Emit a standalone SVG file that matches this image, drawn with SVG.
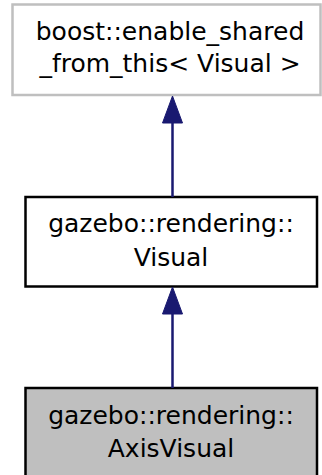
<svg xmlns="http://www.w3.org/2000/svg" width="322" height="475" viewBox="0 0 322 475">
<style>
text{font-family:"DejaVu Sans",sans-serif;font-size:25px;fill:#000;text-anchor:middle}
.edge{stroke:#191970;stroke-width:2.5;fill:none}
.head{fill:#191970;stroke:#191970;stroke-width:1}
</style>
<rect width="322" height="475" fill="#fff"/>
<g id="node_enable_shared">
<rect x="12.5" y="4.5" width="308" height="90.5" fill="#fff" stroke="#bfbfbf" stroke-width="2.5"/>
<text x="170" y="40">boost::enable_shared</text>
<text x="170" y="72">_from_this&lt; Visual &gt;</text>
</g>
<g id="node_visual">
<rect x="25.5" y="197" width="291.5" height="89.5" fill="#fff" stroke="#000" stroke-width="2.5"/>
<text x="171" y="232">gazebo::rendering::</text>
<text x="171" y="265.5">Visual</text>
</g>
<g id="node_axisvisual">
<rect x="25.5" y="388" width="291.5" height="90" fill="#bfbfbf" stroke="#000" stroke-width="2.5"/>
<text x="171" y="423.5">gazebo::rendering::</text>
<text x="171" y="457">AxisVisual</text>
</g>
<g id="connectors">
<line class="edge" x1="172.5" y1="122" x2="172.5" y2="197"/>
<polygon class="head" points="172.5,96 162.5,123 182.5,123"/>
<line class="edge" x1="172.5" y1="313" x2="172.5" y2="388"/>
<polygon class="head" points="172.5,287 162.5,314 182.5,314"/>
</g>
</svg>
